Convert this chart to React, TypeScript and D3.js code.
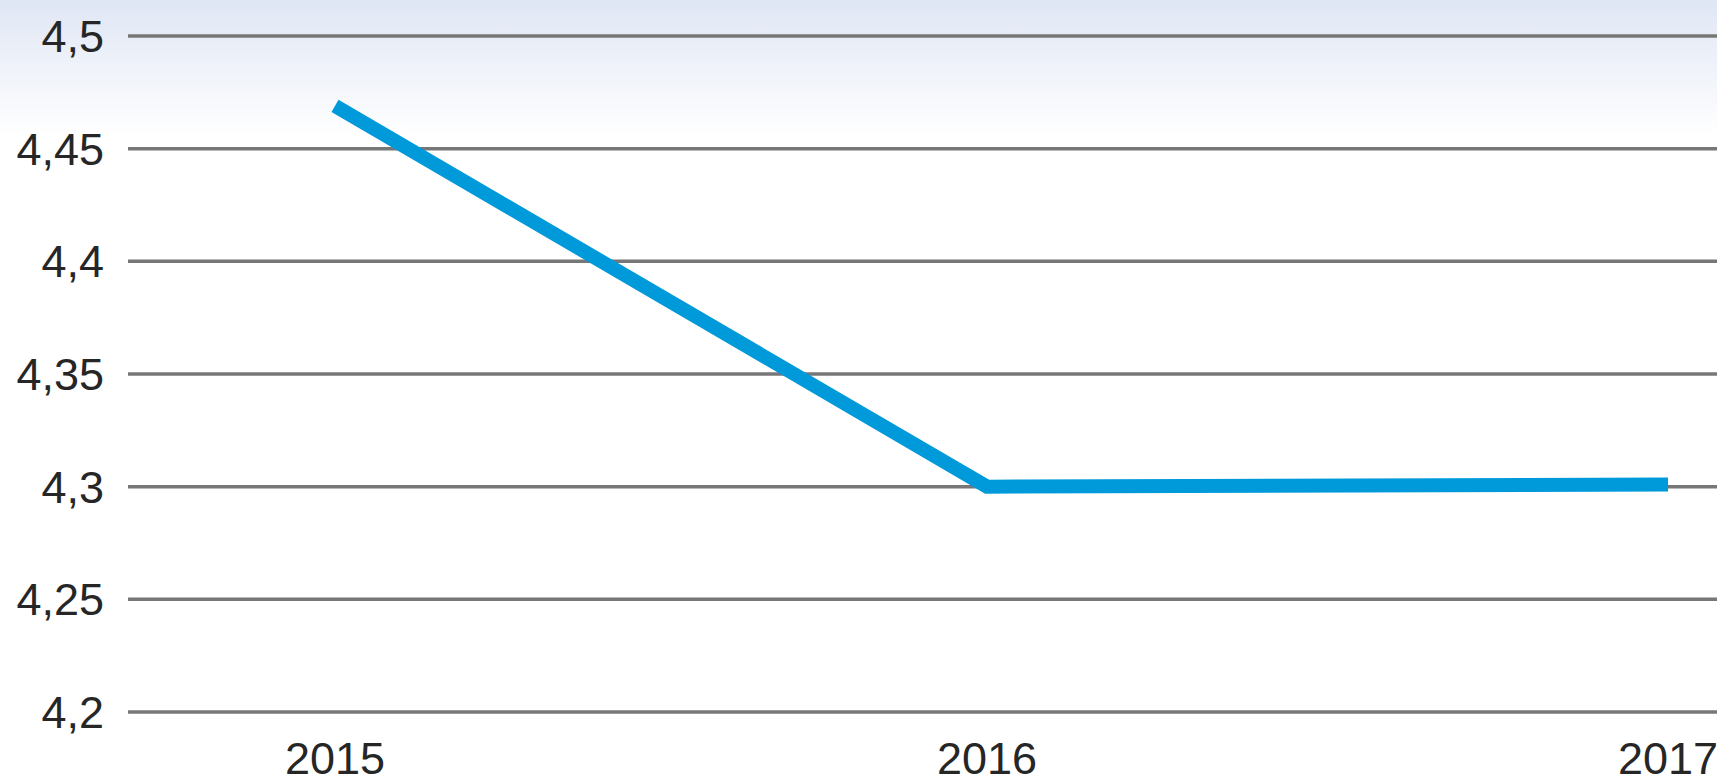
import React, { useEffect, useRef } from 'react';
import * as d3 from 'd3';

const years = ['2015', '2016', '2017'];
const values = [4.469, 4.3, 4.301];
const yTicks = [4.2, 4.25, 4.3, 4.35, 4.4, 4.45, 4.5];

const App: React.FC = () => {
  const svgRef = useRef<SVGSVGElement>(null);

  useEffect(() => {
    if (!svgRef.current) return;

    const width = 1717;
    const height = 777;

    const svg = d3.select(svgRef.current)
      .attr('width', width)
      .attr('height', height);

    svg.selectAll('*').remove();

    // soft blue wash at the top
    const grad = svg.append('defs').append('linearGradient')
      .attr('id', 'bg')
      .attr('x1', 0).attr('y1', 0).attr('x2', 0).attr('y2', 1);
    grad.append('stop').attr('offset', '0%').attr('stop-color', '#dfe6f4');
    grad.append('stop').attr('offset', '100%').attr('stop-color', '#ffffff');

    svg.append('rect').attr('width', width).attr('height', height).attr('fill', '#ffffff');
    svg.append('rect').attr('width', width).attr('height', 135).attr('fill', 'url(#bg)');

    // x positions of the categories
    const x = d3.scaleLinear()
      .domain([0, 1, 2])
      .range([335, 987, 1668]);

    const y = d3.scaleLinear()
      .domain([4.2, 4.5])
      .range([712, 36]);

    const fmt = (v: number) => String(+v.toFixed(2)).replace('.', ',');

    // gridlines
    svg.append('g')
      .selectAll('line')
      .data(yTicks)
      .enter().append('line')
      .attr('x1', 128)
      .attr('x2', width)
      .attr('y1', d => y(d))
      .attr('y2', d => y(d))
      .attr('stroke', '#777777')
      .attr('stroke-width', 3.5);

    // y labels
    svg.append('g')
      .selectAll('text')
      .data(yTicks)
      .enter().append('text')
      .attr('x', 104)
      .attr('y', d => y(d) + 16)
      .attr('text-anchor', 'end')
      .attr('font-family', '"Liberation Sans", Arial, sans-serif')
      .attr('font-size', 45)
      .attr('fill', '#262626')
      .text(d => fmt(d));

    // x labels (cut by the bottom edge, as in the source)
    svg.append('g')
      .selectAll('text')
      .data(years)
      .enter().append('text')
      .attr('x', (_, i) => x(i))
      .attr('y', 774)
      .attr('text-anchor', 'middle')
      .attr('font-family', '"Liberation Sans", Arial, sans-serif')
      .attr('font-size', 45)
      .attr('fill', '#262626')
      .text(d => d);

    const line = d3.line<number>()
      .x((_, i) => x(i))
      .y(d => y(d));

    svg.append('path')
      .datum(values)
      .attr('d', line)
      .attr('fill', 'none')
      .attr('stroke', '#009ada')
      .attr('stroke-width', 14)
      .attr('stroke-linejoin', 'miter');
  }, []);

  return (
    <svg ref={svgRef} style={{ position: 'absolute', left: 0, top: 0, display: 'block' }} />
  );
};

export default App;
